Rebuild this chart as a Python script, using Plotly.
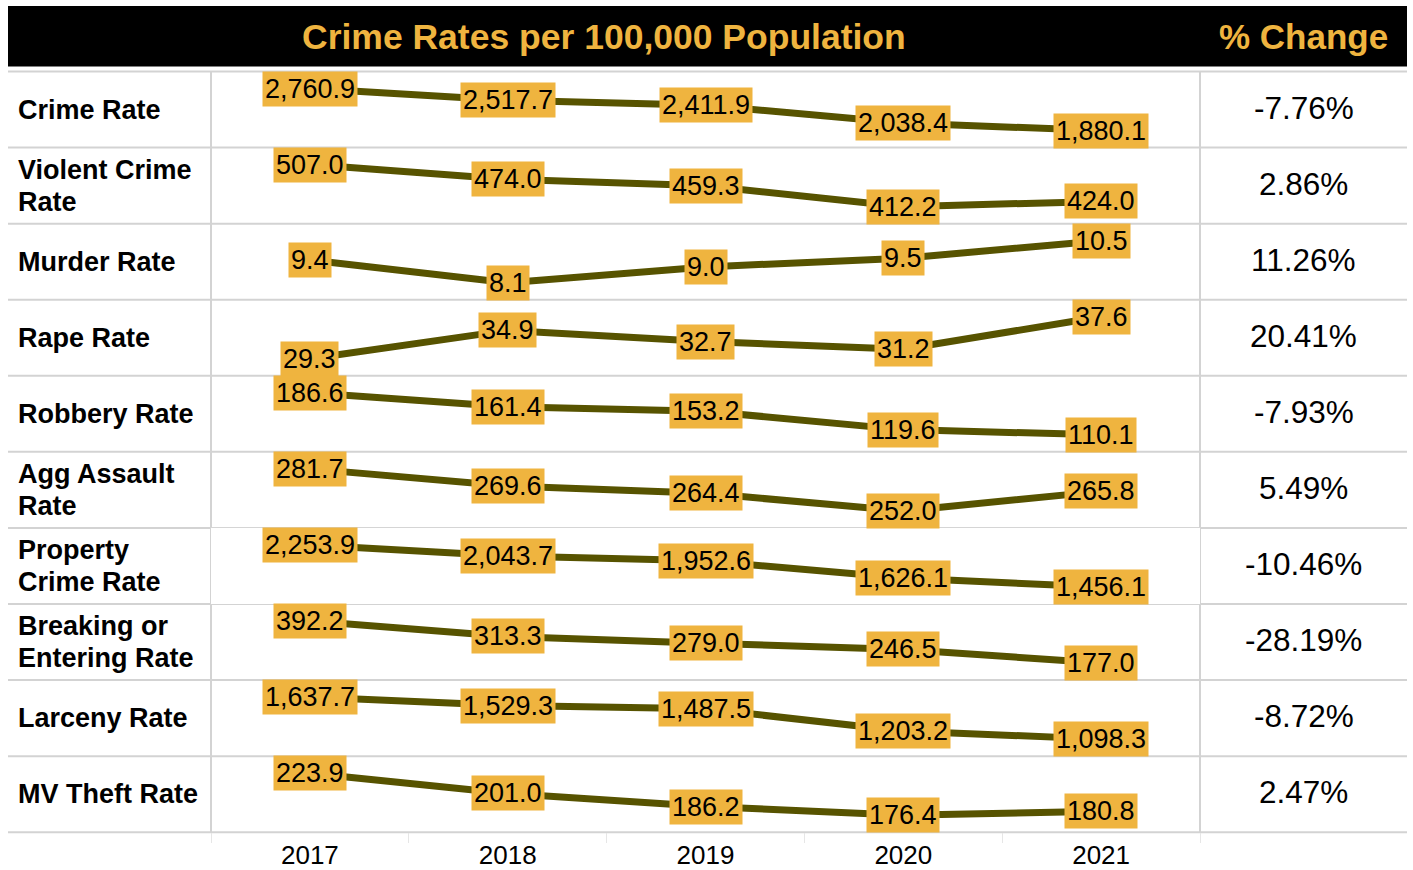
import plotly.graph_objects as go

years = [2017, 2018, 2019, 2020, 2021]
row_labels = ["Crime Rate", "Violent Crime<br>Rate", "Murder Rate", "Rape Rate", "Robbery Rate",
              "Agg Assault<br>Rate", "Property<br>Crime Rate", "Breaking or<br>Entering Rate",
              "Larceny Rate", "MV Theft Rate"]
crime_rate = [2760.9, 2517.7, 2411.9, 2038.4, 1880.1]
violent_crime_rate = [507.0, 474.0, 459.3, 412.2, 424.0]
murder_rate = [9.4, 8.1, 9.0, 9.5, 10.5]
rape_rate = [29.3, 34.9, 32.7, 31.2, 37.6]
robbery_rate = [186.6, 161.4, 153.2, 119.6, 110.1]
agg_assault_rate = [281.7, 269.6, 264.4, 252.0, 265.8]
property_crime_rate = [2253.9, 2043.7, 1952.6, 1626.1, 1456.1]
breaking_entering_rate = [392.2, 313.3, 279.0, 246.5, 177.0]
larceny_rate = [1637.7, 1529.3, 1487.5, 1203.2, 1098.3]
mv_theft_rate = [223.9, 201.0, 186.2, 176.4, 180.8]
pct_change = ["-7.76%", "2.86%", "11.26%", "20.41%", "-7.93%", "5.49%", "-10.46%", "-28.19%", "-8.72%", "2.47%"]

series = [crime_rate, violent_crime_rate, murder_rate, rape_rate, robbery_rate,
          agg_assault_rate, property_crime_rate, breaking_entering_rate, larceny_rate, mv_theft_rate]

W, H = 1413, 870
ORANGE = "#EFB43F"
LINE = "#575300"
GRID = "#D3D3D3"
FONT = "Arial, Liberation Sans, sans-serif"

def px(x):
    return x / W

def py(y):
    return 1 - y / H

TOP, ROW_H = 72, 76.6
LEFT, CHART_R, RIGHT = 211, 1200, 1407
LINE_GAP = 32

fig = go.Figure()
layout = dict(
    width=W, height=H, margin=dict(l=0, r=0, t=0, b=0),
    paper_bgcolor="white", plot_bgcolor="white", showlegend=False,
    font=dict(family=FONT, color="black"),
    xaxis=dict(domain=[px(LEFT), px(CHART_R)], range=[years[0] - 0.5, years[-1] + 0.5],
               anchor="free", position=py(TOP + 10 * ROW_H), showgrid=False, zeroline=False,
               showline=False, ticks="", tickvals=years, ticktext=[str(y) for y in years],
               ticklabelstandoff=5,
               tickfont=dict(size=26, family=FONT, color="black"),
               minor=dict(ticks="outside", tick0=years[0] - 0.5, dtick=1, ticklen=10,
                          tickcolor="#E6E6E6", tickwidth=1, showgrid=False),
               fixedrange=True),
)
annotations = []
shapes = []

for i, vals in enumerate(series):
    yname = "y" if i == 0 else f"y{i + 1}"
    axkey = "yaxis" if i == 0 else f"yaxis{i + 1}"
    top = TOP + i * ROW_H
    bot = top + ROW_H
    mid = (top + bot) / 2
    lo, hi = min(vals), max(vals)
    r = hi - lo
    layout[axkey] = dict(domain=[py(bot), py(top)], range=[lo - 0.405 * r, hi + 0.405 * r],
                         visible=False, anchor="free", position=px(LEFT), fixedrange=True)
    fig.add_trace(go.Scatter(x=years, y=vals, xaxis="x", yaxis=yname, mode="lines",
                             line=dict(color=LINE, width=7), hoverinfo="skip"))
    for yr, v in zip(years, vals):
        annotations.append(dict(x=yr, y=v, xref="x", yref=yname, text=f"{v:,.1f}",
                                showarrow=False, bgcolor=ORANGE, borderpad=2,
                                xanchor="center", yanchor="middle",
                                font=dict(size=27, family=FONT, color="black")))
    # row label (one annotation per text line)
    parts = row_labels[i].split("<br>")
    n = len(parts)
    for k, part in enumerate(parts):
        yc = mid + (k - (n - 1) / 2) * LINE_GAP
        annotations.append(dict(x=px(16), y=py(yc), xref="paper", yref="paper",
                                text=f"<b>{part}</b>", showarrow=False, xanchor="left",
                                align="left", yanchor="middle",
                                font=dict(size=27, family=FONT, color="black")))
    # pct change
    annotations.append(dict(x=px((CHART_R + RIGHT) / 2), y=py(mid - 2), xref="paper",
                            yref="paper", text=pct_change[i], showarrow=False,
                            xanchor="center", yanchor="middle",
                            font=dict(size=31.5, family=FONT, color="black")))
    # separator line
    shapes.append(dict(type="line", xref="paper", yref="paper", x0=px(8), x1=px(RIGHT),
                       y0=py(bot), y1=py(bot), line=dict(color=GRID, width=2), layer="below"))

# top line and vertical lines
shapes.append(dict(type="line", xref="paper", yref="paper", x0=px(8), x1=px(RIGHT),
                   y0=py(TOP), y1=py(TOP), line=dict(color=GRID, width=2), layer="below"))
for xv in (LEFT, CHART_R):
    shapes.append(dict(type="line", xref="paper", yref="paper", x0=px(xv), x1=px(xv),
                       y0=py(TOP), y1=py(TOP + 10 * ROW_H), line=dict(color=GRID, width=2),
                       layer="below"))
# header bar
shapes.append(dict(type="rect", xref="paper", yref="paper", x0=px(8), x1=px(RIGHT),
                   y0=py(67), y1=py(6), fillcolor="black", line=dict(width=0), layer="below"))
annotations.append(dict(x=px((8 + CHART_R) / 2), y=py(37), xref="paper", yref="paper",
                        text="<b>Crime Rates per 100,000 Population</b>", showarrow=False,
                        xanchor="center", yanchor="middle",
                        font=dict(size=35.5, family=FONT, color=ORANGE)))
annotations.append(dict(x=px((CHART_R + RIGHT) / 2), y=py(37), xref="paper", yref="paper",
                        text="<b>% Change</b>", showarrow=False,
                        xanchor="center", yanchor="middle",
                        font=dict(size=35, family=FONT, color=ORANGE)))

layout["annotations"] = annotations
layout["shapes"] = shapes
fig.update_layout(**layout)
fig.write_html("out.html", config={"displayModeBar": False},
               post_script="document.body.style.margin='0px';document.body.style.overflow='hidden';")
